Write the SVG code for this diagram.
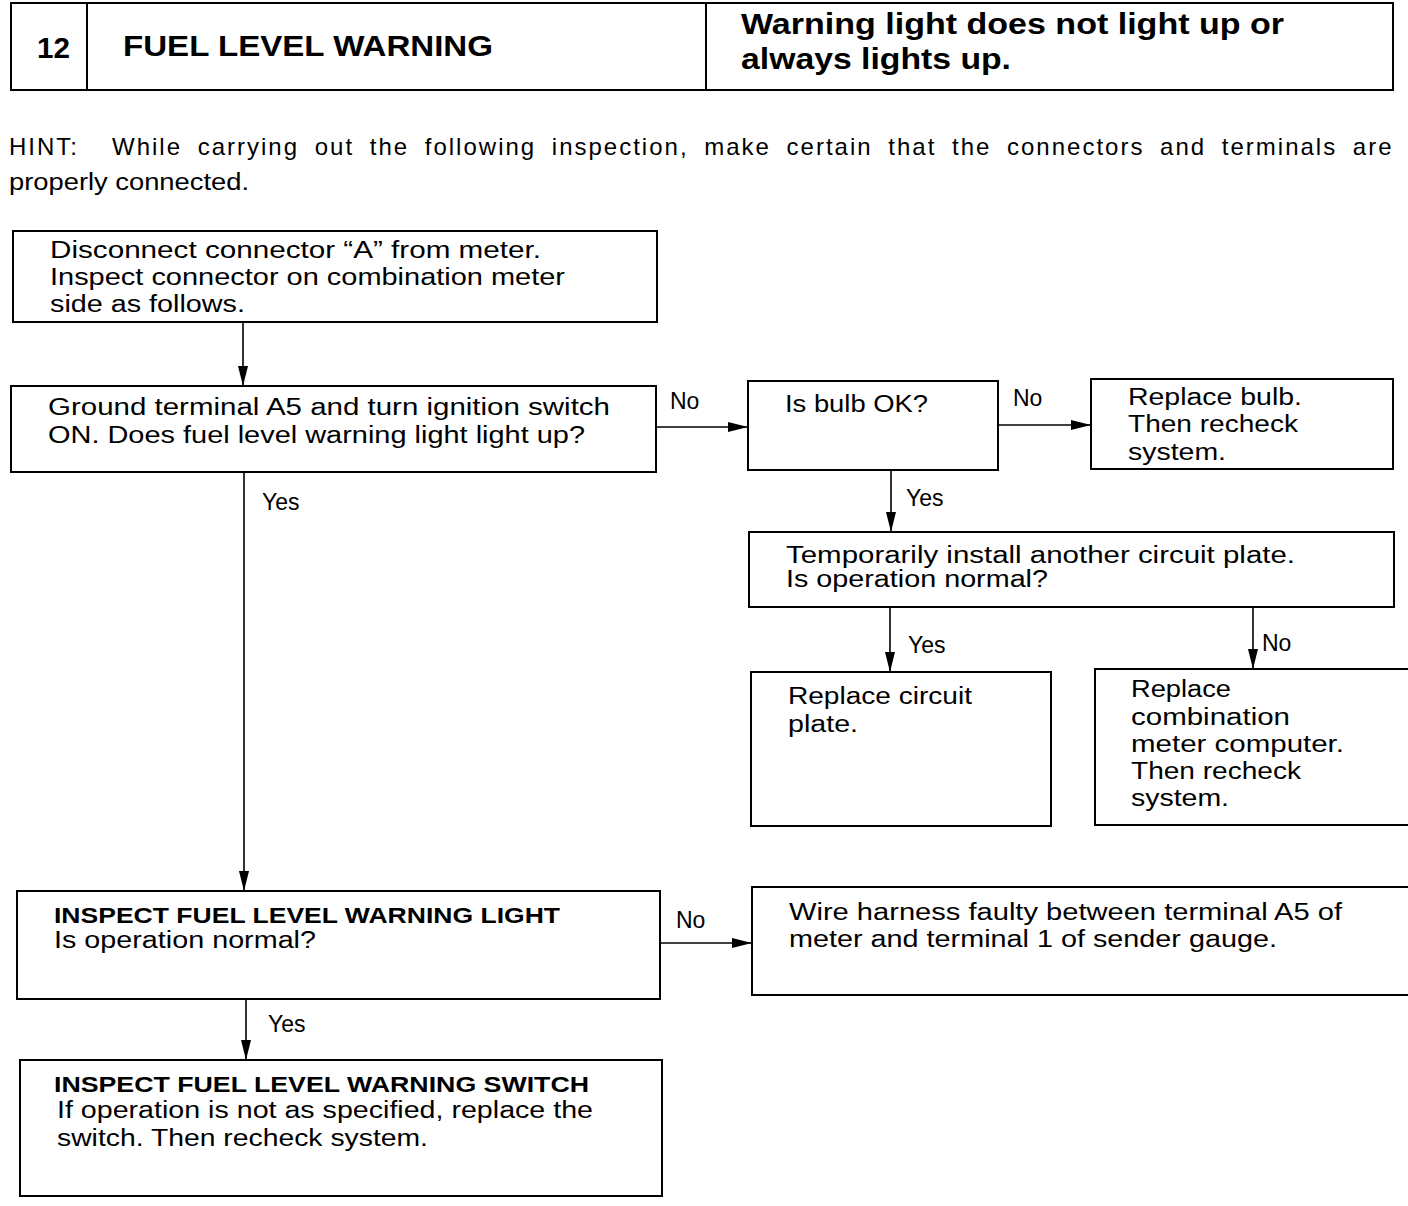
<svg xmlns="http://www.w3.org/2000/svg" width="1408" height="1206" viewBox="0 0 1408 1206">
<defs>
<style>
.b{fill:#fff;stroke:#000;stroke-width:2}
.l{fill:none;stroke:#000;stroke-width:1.6}
text{font-family:"Liberation Sans",Arial,sans-serif;fill:#000}
.t{font-size:23px}
.h{font-size:30px;font-weight:bold}
.s{font-size:22px;font-weight:bold}
.hint{font-size:24px;letter-spacing:2px;word-spacing:7px}
</style>
<marker id="d" viewBox="0 0 20 10" refX="20" refY="5" markerWidth="20" markerHeight="10" markerUnits="userSpaceOnUse" orient="auto">
<path d="M0,0 L20,5 L0,10 Z" fill="#000"/>
</marker>
</defs>
<rect width="1408" height="1206" fill="#fff"/>
<g id="header">
<rect class="b" x="11" y="3" width="1382" height="87"/>
<line class="b" x1="87" y1="3" x2="87" y2="90"/>
<line class="b" x1="706" y1="3" x2="706" y2="90"/>
<text class="h" x="37" y="58" font-size="28" textLength="33" lengthAdjust="spacingAndGlyphs">12</text>
<text class="h" x="123" y="56" textLength="370" lengthAdjust="spacingAndGlyphs">FUEL LEVEL WARNING</text>
<text class="h" x="741" y="34" textLength="543" lengthAdjust="spacingAndGlyphs">Warning light does not light up or</text>
<text class="h" x="741" y="69" textLength="270" lengthAdjust="spacingAndGlyphs">always lights up.</text>
</g>
<g id="hint">
<text class="hint" x="9" y="155">HINT:</text>
<text class="hint" x="112" y="155">While carrying out the following inspection, make certain that the connectors and terminals are</text>
<text class="t" x="9" y="190" textLength="240" lengthAdjust="spacingAndGlyphs">properly connected.</text>
</g>
<g id="n1">
<rect class="b" x="13" y="231" width="644" height="91"/>
<text class="t" x="50" y="258" textLength="491" lengthAdjust="spacingAndGlyphs">Disconnect connector “A” from meter.</text>
<text class="t" x="50" y="285" textLength="515" lengthAdjust="spacingAndGlyphs">Inspect connector on combination meter</text>
<text class="t" x="50" y="312" textLength="195" lengthAdjust="spacingAndGlyphs">side as follows.</text>
</g>
<g id="n2">
<rect class="b" x="11" y="386" width="645" height="86"/>
<text class="t" x="48" y="415" textLength="562" lengthAdjust="spacingAndGlyphs">Ground terminal A5 and turn ignition switch</text>
<text class="t" x="48" y="443" textLength="537" lengthAdjust="spacingAndGlyphs">ON. Does fuel level warning light light up?</text>
</g>
<g id="n3">
<rect class="b" x="748" y="381" width="250" height="89"/>
<text class="t" x="785" y="412" textLength="143" lengthAdjust="spacingAndGlyphs">Is bulb OK?</text>
</g>
<g id="n4">
<rect class="b" x="1091" y="379" width="302" height="90"/>
<text class="t" x="1128" y="405" textLength="174" lengthAdjust="spacingAndGlyphs">Replace bulb.</text>
<text class="t" x="1128" y="432" textLength="170" lengthAdjust="spacingAndGlyphs">Then recheck</text>
<text class="t" x="1128" y="460" textLength="98" lengthAdjust="spacingAndGlyphs">system.</text>
</g>
<g id="n5">
<rect class="b" x="749" y="532" width="645" height="75"/>
<text class="t" x="786" y="563" textLength="509" lengthAdjust="spacingAndGlyphs">Temporarily install another circuit plate.</text>
<text class="t" x="786" y="587" textLength="262" lengthAdjust="spacingAndGlyphs">Is operation normal?</text>
</g>
<g id="n6">
<rect class="b" x="751" y="672" width="300" height="154"/>
<text class="t" x="788" y="704" textLength="184" lengthAdjust="spacingAndGlyphs">Replace circuit</text>
<text class="t" x="788" y="732" textLength="70" lengthAdjust="spacingAndGlyphs">plate.</text>
</g>
<g id="n7">
<path class="b" d="M1410,669 H1095 V825 H1410"/>
<text class="t" x="1131" y="697" textLength="100" lengthAdjust="spacingAndGlyphs">Replace</text>
<text class="t" x="1131" y="725" textLength="159" lengthAdjust="spacingAndGlyphs">combination</text>
<text class="t" x="1131" y="752" textLength="213" lengthAdjust="spacingAndGlyphs">meter computer.</text>
<text class="t" x="1131" y="779" textLength="170" lengthAdjust="spacingAndGlyphs">Then recheck</text>
<text class="t" x="1131" y="806" textLength="98" lengthAdjust="spacingAndGlyphs">system.</text>
</g>
<g id="n8">
<rect class="b" x="17" y="891" width="643" height="108"/>
<text class="s" x="54" y="923" textLength="506" lengthAdjust="spacingAndGlyphs">INSPECT FUEL LEVEL WARNING LIGHT</text>
<text class="t" x="54" y="948" textLength="262" lengthAdjust="spacingAndGlyphs">Is operation normal?</text>
</g>
<g id="n9">
<path class="b" d="M1410,887 H752 V995 H1410"/>
<text class="t" x="789" y="920" textLength="553" lengthAdjust="spacingAndGlyphs">Wire harness faulty between terminal A5 of</text>
<text class="t" x="789" y="947" textLength="488" lengthAdjust="spacingAndGlyphs">meter and terminal 1 of sender gauge.</text>
</g>
<g id="n10">
<rect class="b" x="20" y="1060" width="642" height="136"/>
<text class="s" x="54" y="1092" textLength="535" lengthAdjust="spacingAndGlyphs">INSPECT FUEL LEVEL WARNING SWITCH</text>
<text class="t" x="57" y="1118" textLength="536" lengthAdjust="spacingAndGlyphs">If operation is not as specified, replace the</text>
<text class="t" x="57" y="1146" textLength="371" lengthAdjust="spacingAndGlyphs">switch. Then recheck system.</text>
</g>
<g id="connectors">
<line class="l" x1="243" y1="322" x2="243" y2="386" marker-end="url(#d)"/>
<line class="l" x1="656" y1="427" x2="748" y2="427" marker-end="url(#d)"/>
<line class="l" x1="998" y1="425" x2="1091" y2="425" marker-end="url(#d)"/>
<line class="l" x1="891" y1="470" x2="891" y2="532" marker-end="url(#d)"/>
<line class="l" x1="890" y1="607" x2="890" y2="672" marker-end="url(#d)"/>
<line class="l" x1="1253" y1="607" x2="1253" y2="669" marker-end="url(#d)"/>
<line class="l" x1="244" y1="472" x2="244" y2="891" marker-end="url(#d)"/>
<line class="l" x1="660" y1="943" x2="752" y2="943" marker-end="url(#d)"/>
<line class="l" x1="246" y1="999" x2="246" y2="1060" marker-end="url(#d)"/>
<text class="t" x="670" y="409">No</text>
<text class="t" x="1013" y="406">No</text>
<text class="t" x="906" y="506">Yes</text>
<text class="t" x="908" y="653">Yes</text>
<text class="t" x="1262" y="651">No</text>
<text class="t" x="262" y="510">Yes</text>
<text class="t" x="676" y="928">No</text>
<text class="t" x="268" y="1032">Yes</text>
</g>
</svg>
